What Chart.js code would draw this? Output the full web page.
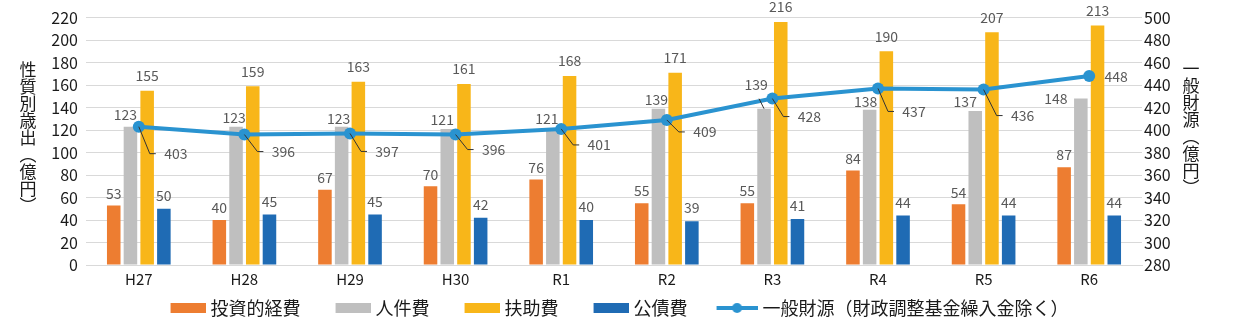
<!DOCTYPE html>
<html>
<head>
<meta charset="utf-8">
<script src="https://cdn.jsdelivr.net/npm/chart.js@4.4.1/dist/chart.umd.min.js"></script>
<style>
  html, body { margin: 0; padding: 0; background: #fff; }
  #contenedor { width: 1234px; height: 327px; }
</style>
</head>
<body>
<div id="contenedor"><canvas id="grafico"></canvas></div>
<script>
// datos
const nendos = ["H27", "H28", "H29", "H30", "R1", "R2", "R3", "R4", "R5", "R6"]
const toshitekiKeihi = [53, 40, 67, 70, 76, 55, 55, 84, 54, 87]
const jinkenhi = [123, 123, 123, 121, 121, 139, 139, 138, 137, 148]
const fujohi = [155, 159, 163, 161, 168, 171, 216, 190, 207, 213]
const kosaihi = [50, 45, 45, 42, 40, 39, 41, 44, 44, 44]
const ippanZaigen = [403, 396, 397, 396, 401, 409, 428, 437, 436, 448]

const ticksIzq = { min: 0, max: 220, step: 20 }
const ticksDer = { min: 280, max: 500, step: 20 }

const fuente = "'Noto Sans CJK JP', 'Noto Sans', sans-serif"
const colorLinea = "#2A93D0"

// desplazamiento de etiquetas (solo estilo)
const desplGris = [[-5, 12], [-2, 9], [-3, 8], [-5, 9], [-6, 10], [-2, 9], [-8, 24], [-4, 8], [-10, 9], [-25, 0]]
const desplLinea = [[37, 27], [39, 17], [37, 18], [38, 15], [38, 16], [38, 12], [37, 18], [36, 23], [39, 26], [27, 1]]

// iconos de la leyenda (parte izquierda transparente = espacio entre items)
function iconoBarra(color) {
    const c = document.createElement("canvas")
    c.width = 68
    c.height = 10
    const g = c.getContext("2d")
    g.fillStyle = color
    g.fillRect(33, 0, 35, 10)
    return c
}

function iconoLinea(color) {
    const c = document.createElement("canvas")
    c.width = 68
    c.height = 12
    const g = c.getContext("2d")
    g.strokeStyle = color
    g.lineWidth = 4
    g.beginPath()
    g.moveTo(27, 6)
    g.lineTo(68, 6)
    g.stroke()
    g.fillStyle = color
    g.beginPath()
    g.arc(47.5, 6, 5, 0, Math.PI * 2)
    g.fill()
    return c
}

const etiquetas = {
    id: "etiquetas",
    afterLayout(chart) {
        // correr la leyenda a la izquierda
        chart.legend.left -= 12
        chart.legend.right -= 12
    },
    afterDatasetsDraw(chart) {
        const ctx = chart.ctx
        ctx.save()
        ctx.font = "14px " + fuente
        ctx.fillStyle = "#595959"
        ctx.textAlign = "center"
        ctx.textBaseline = "middle"
        chart.data.datasets.forEach((ds, i) => {
            const meta = chart.getDatasetMeta(i)
            meta.data.forEach((el, j) => {
                const v = ds.data[j]
                if (ds.type === "line") {
                    const d = desplLinea[j]
                    const cx = el.x + d[0]
                    const cy = el.y + d[1]
                    if (d[1] > 5) {
                        ctx.strokeStyle = "#333"
                        ctx.lineWidth = 1
                        ctx.beginPath()
                        ctx.moveTo(el.x, el.y)
                        ctx.lineTo(cx - 26, cy)
                        ctx.lineTo(cx - 20, cy)
                        ctx.stroke()
                    }
                    ctx.fillText(v, cx, cy)
                } else {
                    let dx = 0
                    let dy = ds.separacion
                    if (ds.label === "人件費") {
                        dx = desplGris[j][0]
                        dy = desplGris[j][1]
                        if (dy > 15) {
                            ctx.strokeStyle = "#333"
                            ctx.lineWidth = 1
                            ctx.beginPath()
                            ctx.moveTo(el.x - 5, el.y - 10)
                            ctx.lineTo(el.x, el.y)
                            ctx.stroke()
                        }
                    }
                    ctx.fillText(v, el.x + dx, el.y - dy)
                }
            })
        })
        ctx.restore()
    },
    afterDraw(chart) {
        // titulos verticales de los ejes
        const ctx = chart.ctx
        ctx.save()
        ctx.font = "17px " + fuente
        ctx.fillStyle = "#1a1a1a"
        ctx.textAlign = "center"
        ctx.textBaseline = "middle"
        const izq = ["性", "質", "別", "歳", "出", "︵", "億", "円", "︶"]
        izq.forEach((ch, k) => ctx.fillText(ch, 28, 70 + k * 17))
        const der = ["一", "般", "財", "源", "︵", "億", "円", "︶"]
        der.forEach((ch, k) => ctx.fillText(ch, 1191, 69 + k * 17))
        ctx.restore()
    }
}

const ctx = document.getElementById("grafico").getContext("2d")
const chart = new Chart(ctx, {
    data: {
        labels: nendos,
        datasets: [
            {
                type: "line",
                label: "一般財源（財政調整基金繰入金除く）",
                data: ippanZaigen,
                yAxisID: "y2",
                borderColor: colorLinea,
                backgroundColor: colorLinea,
                borderWidth: 4,
                pointRadius: 6,
                pointBackgroundColor: colorLinea,
                pointBorderWidth: 0,
                tension: 0,
                order: 0
            },
            { type: "bar", label: "投資的経費", data: toshitekiKeihi, backgroundColor: "#ED7D31", yAxisID: "y", separacion: 12, order: 1 },
            { type: "bar", label: "人件費", data: jinkenhi, backgroundColor: "#BFBFBF", yAxisID: "y", separacion: 10, order: 1 },
            { type: "bar", label: "扶助費", data: fujohi, backgroundColor: "#F8B619", yAxisID: "y", separacion: 15, order: 1 },
            { type: "bar", label: "公債費", data: kosaihi, backgroundColor: "#1F6BB4", yAxisID: "y", separacion: 13, order: 1 }
        ]
    },
    options: {
        responsive: true,
        maintainAspectRatio: false,
        animation: false,
        datasets: {
            bar: { barPercentage: 0.81, categoryPercentage: 0.633 }
        },
        layout: { padding: { top: 13, left: 0, right: 0, bottom: 0 } },
        scales: {
            x: {
                offset: true,
                grid: { display: false, drawTicks: false },
                border: { display: true, color: "#D9D9D9" },
                ticks: { color: "#1a1a1a", font: { size: 15, family: fuente }, padding: 5 }
            },
            y: {
                position: "left",
                min: ticksIzq.min,
                max: ticksIzq.max,
                afterFit(s) { s.width = 86 },
                ticks: { stepSize: ticksIzq.step, autoSkip: false, color: "#1a1a1a", font: { size: 16, family: fuente }, padding: 8 },
                grid: { color: "#D9D9D9", drawTicks: false },
                border: { display: false }
            },
            y2: {
                position: "right",
                min: ticksDer.min,
                max: ticksDer.max,
                afterFit(s) { s.width = 92 },
                ticks: { stepSize: ticksDer.step, autoSkip: false, color: "#1a1a1a", font: { size: 16, family: fuente }, padding: 2 },
                grid: { display: false, drawTicks: false },
                border: { display: false }
            }
        },
        plugins: {
            tooltip: { enabled: false },
            legend: {
                position: "bottom",
                labels: {
                    usePointStyle: true,
                    pointStyleWidth: 60,
                    padding: 6,
                    color: "#1a1a1a",
                    font: { size: 18, family: fuente },
                    sort: (a, b) => {
                        const ia = a.datasetIndex === 0 ? 99 : a.datasetIndex
                        const ib = b.datasetIndex === 0 ? 99 : b.datasetIndex
                        return ia - ib
                    },
                    generateLabels(ch) {
                        const items = Chart.defaults.plugins.legend.labels.generateLabels(ch)
                        items.forEach(it => {
                            const ds = ch.data.datasets[it.datasetIndex]
                            it.pointStyle = ds.type === "line" ? iconoLinea(colorLinea) : iconoBarra(ds.backgroundColor)
                        })
                        return items
                    }
                }
            }
        }
    },
    plugins: [etiquetas]
})
</script>
</body>
</html>
